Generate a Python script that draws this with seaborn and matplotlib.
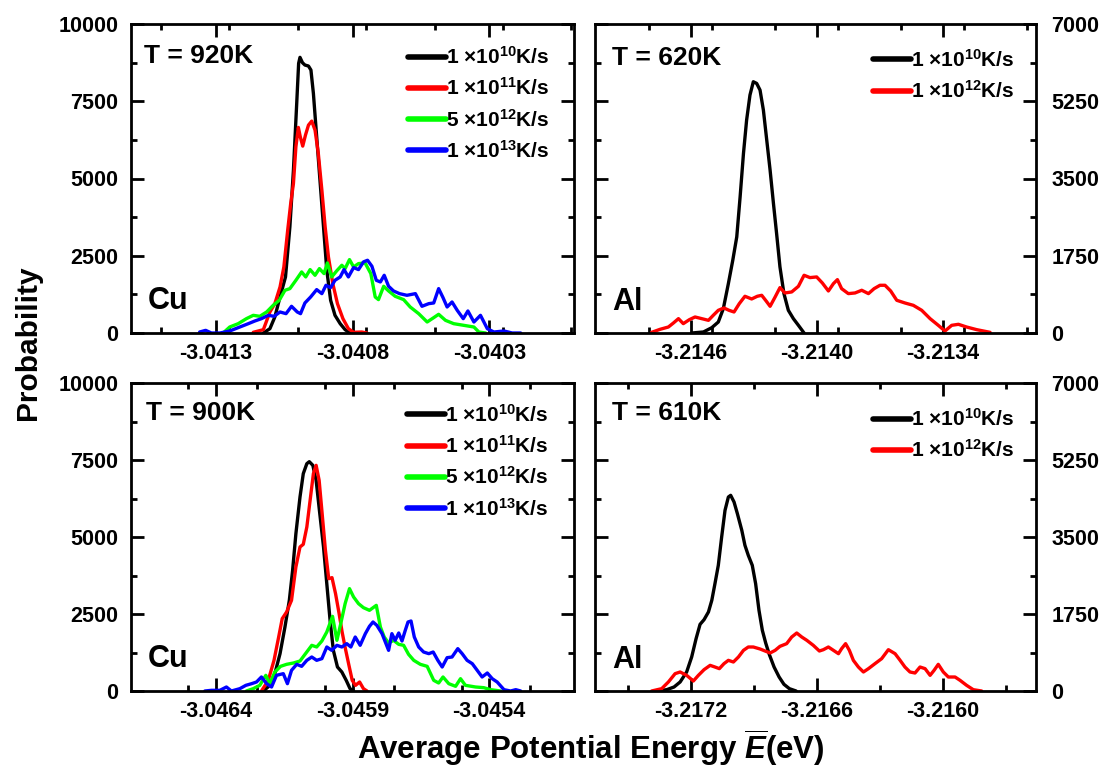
import matplotlib
matplotlib.use("Agg")
import matplotlib.pyplot as plt
from matplotlib.ticker import MultipleLocator
import pandas as pd
import seaborn as sns

# ---------------- data ----------------
rate_labels_cu = [r"1 ×10$^{10}$K/s", r"1 ×10$^{11}$K/s", r"5 ×10$^{12}$K/s", r"1 ×10$^{13}$K/s"]
rate_labels_al = [r"1 ×10$^{10}$K/s", r"1 ×10$^{12}$K/s"]
colors_cu = ["#000000", "#ff0000", "#00ff00", "#0000ff"]
colors_al = ["#000000", "#ff0000"]

# Cu, T = 920 K
cu920_E_1e10 = [-3.041126, -3.041102, -3.041084, -3.041065, -3.041045, -3.041029, -3.041016, -3.041004,
                -3.040997, -3.040992, -3.040983, -3.040974, -3.040961, -3.040952, -3.040943, -3.040931,
                -3.040919, -3.040906, -3.040894, -3.040880, -3.040864, -3.040845, -3.040827, -3.040809]
cu920_P_1e10 = [0, 140, 518, 1166, 1814, 3434, 5270, 7430, 8726, 8921, 8748, 8672, 8640, 8510, 7754, 6350,
                4946, 3434, 2030, 1058, 572, 302, 108, 0]
cu920_E_1e11 = [-3.041163, -3.041126, -3.041102, -3.041084, -3.041065, -3.041051, -3.041037, -3.041026,
                -3.041016, -3.041007, -3.040998, -3.040991, -3.040982, -3.040972, -3.040961, -3.040949,
                -3.040937, -3.040925, -3.040912, -3.040900, -3.040888, -3.040872, -3.040855, -3.040835,
                -3.040815, -3.040796, -3.040766, -3.040747]
cu920_P_1e11 = [22, 108, 680, 950, 1490, 2138, 3326, 4190, 4838, 6026, 6653, 6350, 6048, 6404, 6728, 6858,
                6566, 5810, 4622, 3434, 2462, 1598, 950, 464, 140, 22, 32, 0]
cu920_E_5e12 = [-3.041273, -3.041249, -3.041218, -3.041188, -3.041163, -3.041139, -3.041114, -3.041090,
                -3.041068, -3.041047, -3.041029, -3.041007, -3.040986, -3.040971, -3.040955, -3.040937,
                -3.040921, -3.040904, -3.040892, -3.040876, -3.040858, -3.040839, -3.040827, -3.040811,
                -3.040796, -3.040778, -3.040754, -3.040733, -3.040717, -3.040705, -3.040686, -3.040668,
                -3.040644, -3.040613, -3.040589, -3.040558, -3.040527, -3.040503, -3.040485, -3.040460,
                -3.040430, -3.040393, -3.040356, -3.040338, -3.040313]
cu920_P_5e12 = [0, 194, 302, 464, 572, 540, 680, 896, 1058, 1382, 1436, 1706, 1976, 1814, 2052, 1868,
                2084, 1922, 2268, 1814, 2009, 2192, 2084, 2376, 2138, 2246, 2268, 1922, 1166, 1080,
                1512, 1361, 1188, 1080, 842, 626, 356, 497, 605, 410, 302, 248, 194, 32, 0]
cu920_E_1e13 = [-3.041359, -3.041337, -3.041316, -3.041285, -3.041249, -3.041212, -3.041181, -3.041157,
                -3.041133, -3.041108, -3.041087, -3.041065, -3.041043, -3.041023, -3.041002, -3.040990,
                -3.040974, -3.040953, -3.040931, -3.040912, -3.040897, -3.040880, -3.040864, -3.040845,
                -3.040831, -3.040815, -3.040796, -3.040778, -3.040760, -3.040745, -3.040729, -3.040713,
                -3.040698, -3.040684, -3.040668, -3.040650, -3.040628, -3.040601, -3.040570, -3.040546,
                -3.040521, -3.040503, -3.040485, -3.040469, -3.040454, -3.040436, -3.040417, -3.040395,
                -3.040378, -3.040356, -3.040332, -3.040307, -3.040283, -3.040246, -3.040216, -3.040185]
cu920_P_1e13 = [32, 86, 0, 0, 65, 194, 302, 389, 464, 572, 540, 680, 626, 864, 680, 626,
                972, 1166, 1404, 1274, 1544, 1469, 1706, 1814, 2052, 1814, 2117, 2052, 2300, 2354,
                2160, 1706, 1652, 1868, 1512, 1361, 1274, 1220, 1274, 864, 950, 972, 1436, 1145,
                842, 1004, 734, 464, 713, 356, 572, 140, 32, 65, 0, 0]

# Cu, T = 900 K
cu900_E_1e10 = [-3.046226, -3.046202, -3.046184, -3.046165, -3.046147, -3.046131, -3.046119, -3.046107,
                -3.046092, -3.046080, -3.046067, -3.046058, -3.046045, -3.046033, -3.046021, -3.046006,
                -3.045994, -3.045982, -3.045970, -3.045955, -3.045939, -3.045923, -3.045909, -3.045896]
cu900_P_1e10 = [0, 184, 563, 1212, 2078, 2944, 3918, 5108, 6299, 7057, 7381, 7446, 7327, 6840, 5866, 4676,
                3485, 2294, 1320, 779, 617, 346, 76, 0]
cu900_E_1e11 = [-3.046233, -3.046208, -3.046187, -3.046170, -3.046157, -3.046141, -3.046123, -3.046107,
                -3.046092, -3.046080, -3.046067, -3.046055, -3.046043, -3.046033, -3.046022, -3.046011,
                -3.045999, -3.045987, -3.045975, -3.045962, -3.045950, -3.045938, -3.045926, -3.045913,
                -3.045901, -3.045889, -3.045874, -3.045860, -3.045847]
cu900_P_1e11 = [0, 346, 996, 1753, 2349, 2565, 2944, 4026, 4676, 4762, 5325, 6191, 7057, 7327, 6840, 5758,
                4567, 3647, 3680, 3160, 2565, 1916, 1375, 833, 346, 184, 292, 76, 0]
cu900_E_5e12 = [-3.046288, -3.046263, -3.046239, -3.046217, -3.046202, -3.046184, -3.046163, -3.046141,
                -3.046116, -3.046092, -3.046070, -3.046049, -3.046031, -3.046012, -3.045994, -3.045973,
                -3.045957, -3.045943, -3.045927, -3.045911, -3.045896, -3.045878, -3.045860, -3.045838,
                -3.045813, -3.045798, -3.045784, -3.045768, -3.045750, -3.045731, -3.045713, -3.045695,
                -3.045676, -3.045652, -3.045627, -3.045603, -3.045585, -3.045569, -3.045548, -3.045523,
                -3.045505, -3.045487, -3.045450, -3.045420, -3.045395, -3.045358]
cu900_P_5e12 = [0, 76, 184, 509, 238, 617, 801, 866, 909, 974, 1234, 1483, 1429, 1623, 1916, 2424,
                1645, 2186, 2836, 3323, 3052, 2836, 2706, 2619, 2781, 2078, 1753, 1558, 1645, 1515,
                1483, 1191, 996, 866, 801, 346, 260, 455, 238, 152, 400, 184, 130, 108, 43, 0]
cu900_E_1e13 = [-3.046440, -3.046416, -3.046385, -3.046361, -3.046343, -3.046312, -3.046290, -3.046269,
                -3.046251, -3.046233, -3.046214, -3.046196, -3.046178, -3.046153, -3.046138, -3.046123,
                -3.046104, -3.046086, -3.046067, -3.046049, -3.046031, -3.046012, -3.045994, -3.045976,
                -3.045957, -3.045939, -3.045921, -3.045906, -3.045890, -3.045872, -3.045853, -3.045838,
                -3.045825, -3.045811, -3.045792, -3.045780, -3.045768, -3.045756, -3.045744, -3.045731,
                -3.045719, -3.045707, -3.045697, -3.045686, -3.045674, -3.045658, -3.045640, -3.045621,
                -3.045605, -3.045588, -3.045572, -3.045554, -3.045536, -3.045515, -3.045499, -3.045481,
                -3.045462, -3.045444, -3.045426, -3.045407, -3.045389, -3.045371, -3.045346, -3.045322,
                -3.045303, -3.045285]
cu900_P_1e13 = [0, 22, 22, 130, 0, 76, 184, 238, 292, 455, 238, 130, 509, 563, 238, 671,
                866, 801, 996, 1104, 996, 1050, 1429, 1320, 1483, 1429, 1537, 1429, 1753, 1483,
                1862, 2100, 2240, 2132, 1862, 1591, 1320, 1862, 1645, 1883, 1623, 1970, 2240, 2273,
                1753, 1429, 1266, 1212, 1266, 996, 779, 1082, 1104, 1375, 1212, 996, 887, 671,
                455, 584, 400, 292, 43, 0, 43, 0]

# Al, T = 620 K
al620_E_1e10 = [-3.214597, -3.214541, -3.214501, -3.214470, -3.214446, -3.214422, -3.214401, -3.214382,
                -3.214366, -3.214350, -3.214335, -3.214319, -3.214303, -3.214287, -3.214271, -3.214255,
                -3.214239, -3.214223, -3.214207, -3.214192, -3.214176, -3.214157, -3.214136, -3.214112,
                -3.214088, -3.214061]
al620_P_1e10 = [0, 23, 121, 249, 552, 1119, 1648, 2177, 3084, 4067, 4823, 5390, 5692, 5654, 5503, 5049,
                4369, 3689, 2933, 2253, 1497, 892, 514, 325, 174, 0]
al620_E_1e12 = [-3.214788, -3.214748, -3.214708, -3.214684, -3.214660, -3.214637, -3.214608, -3.214581,
                -3.214549, -3.214517, -3.214494, -3.214470, -3.214443, -3.214419, -3.214395, -3.214370,
                -3.214343, -3.214311, -3.214284, -3.214263, -3.214242, -3.214223, -3.214199, -3.214176,
                -3.214152, -3.214120, -3.214088, -3.214061, -3.214033, -3.214001, -3.213974, -3.213945,
                -3.213921, -3.213902, -3.213882, -3.213850, -3.213818, -3.213786, -3.213754, -3.213727,
                -3.213699, -3.213675, -3.213648, -3.213619, -3.213580, -3.213540, -3.213500, -3.213460,
                -3.213421, -3.213389, -3.213357, -3.213325, -3.213286, -3.213238, -3.213174]
al620_P_1e12 = [15, 83, 136, 227, 325, 212, 302, 363, 325, 287, 401, 514, 567, 514, 476, 665,
                832, 771, 832, 854, 726, 605, 816, 1028, 907, 930, 1058, 1308, 1255, 1270,
                1134, 952, 1119, 1209, 1005, 892, 907, 968, 892, 1005, 1081, 1081, 952, 741,
                680, 627, 514, 325, 174, 45, 174, 197, 136, 76, 15]

# Al, T = 610 K
al610_E_1e10 = [-3.217364, -3.217316, -3.217281, -3.217252, -3.217221, -3.217197, -3.217176, -3.217157,
                -3.217138, -3.217117, -3.217101, -3.217086, -3.217070, -3.217054, -3.217038, -3.217022,
                -3.217011, -3.216995, -3.216979, -3.216958, -3.216943, -3.216927, -3.216908, -3.216892,
                -3.216876, -3.216860, -3.216844, -3.216827, -3.216804, -3.216780, -3.216757, -3.216731,
                -3.216699]
al610_P_1e10 = [0, 30, 91, 205, 432, 773, 1189, 1515, 1621, 1796, 2061, 2439, 2856, 3500, 4106, 4409,
                4447, 4296, 4030, 3652, 3311, 3083, 2856, 2439, 1833, 1379, 1091, 833, 545, 318,
                152, 53, 0]
al610_E_1e12 = [-3.217388, -3.217340, -3.217308, -3.217276, -3.217252, -3.217221, -3.217189, -3.217165,
                -3.217138, -3.217109, -3.217086, -3.217065, -3.217043, -3.217022, -3.216998, -3.216974,
                -3.216950, -3.216927, -3.216903, -3.216871, -3.216847, -3.216823, -3.216799, -3.216776,
                -3.216744, -3.216720, -3.216696, -3.216672, -3.216648, -3.216617, -3.216588, -3.216569,
                -3.216545, -3.216521, -3.216497, -3.216482, -3.216463, -3.216445, -3.216426, -3.216402,
                -3.216378, -3.216354, -3.216323, -3.216291, -3.216259, -3.216227, -3.216203, -3.216180,
                -3.216156, -3.216132, -3.216108, -3.216084, -3.216060, -3.216041, -3.216021, -3.215997,
                -3.215973, -3.215941, -3.215917, -3.215886, -3.215854, -3.215814]
al610_P_1e12 = [0, 53, 205, 394, 432, 356, 227, 356, 485, 583, 545, 508, 621, 697, 659, 773,
                924, 1000, 1000, 955, 909, 864, 924, 1015, 1076, 1227, 1318, 1227, 1152, 1038,
                909, 939, 1000, 924, 848, 962, 1076, 924, 697, 545, 432, 508, 621, 735, 939,
                848, 697, 545, 432, 409, 545, 508, 356, 470, 606, 432, 318, 318, 242, 129, 30, 0]

# axis ticks / labels
cu920_xticks = [-3.0413, -3.0408, -3.0403]
cu920_xticklabels = ["-3.0413", "-3.0408", "-3.0403"]
cu900_xticks = [-3.0464, -3.0459, -3.0454]
cu900_xticklabels = ["-3.0464", "-3.0459", "-3.0454"]
al620_xticks = [-3.2146, -3.2140, -3.2134]
al620_xticklabels = ["-3.2146", "-3.2140", "-3.2134"]
al610_xticks = [-3.2172, -3.2166, -3.2160]
al610_xticklabels = ["-3.2172", "-3.2166", "-3.2160"]
cu_yticks = [0, 2500, 5000, 7500, 10000]
cu_yticklabels = ["0", "2500", "5000", "7500", "10000"]
al_yticks = [0, 1750, 3500, 5250, 7000]
al_yticklabels = ["0", "1750", "3500", "5250", "7000"]

# ---------------- styling ----------------
sns.set_style("ticks")
plt.rcParams.update({
    "font.family": ["Liberation Sans", "DejaVu Sans"],
    "font.weight": "bold",
    "text.color": "black",
    "axes.labelcolor": "black",
    "axes.edgecolor": "black",
    "xtick.color": "black",
    "ytick.color": "black",
    "xtick.labelcolor": "black",
    "ytick.labelcolor": "black",
    "axes.unicode_minus": False,
    "mathtext.fontset": "custom",
    "mathtext.rm": "Liberation Sans:bold",
    "mathtext.bf": "Liberation Sans:bold",
    "mathtext.it": "Liberation Sans:italic:bold",
    "mathtext.sf": "Liberation Sans:bold",
    "mathtext.default": "rm",
})

W, H = 1110, 771
fig = plt.figure(figsize=(W / 100, H / 100), dpi=100)


def add_ax(l, t, r, b):
    return fig.add_axes([l / W, 1 - b / H, (r - l) / W, (b - t) / H])


def panel(ax, series, labels, colors, xlim, xticks, xticklabels, xminor,
          ylim, yticks, yticklabels, yminor, temp_text, elem, right,
          leg_anchor, temp_pos, elem_pos):
    frames = [pd.DataFrame({"E": E, "P": P, "rate": lab}) for (E, P), lab in zip(series, labels)]
    df = pd.concat(frames, ignore_index=True)
    sns.lineplot(data=df, x="E", y="P", hue="rate", hue_order=labels, palette=colors,
                 estimator=None, sort=False, linewidth=2.4, legend=False, ax=ax,
                 solid_joinstyle="round", solid_capstyle="round")
    ax.set_xlim(*xlim)
    ax.set_ylim(*ylim)
    ax.set_xticks(xticks)
    ax.set_xticklabels(xticklabels)
    ax.xaxis.set_minor_locator(MultipleLocator(xminor))
    ax.set_yticks(yticks)
    ax.set_yticklabels(yticklabels)
    ax.yaxis.set_minor_locator(MultipleLocator(yminor))
    ax.set_xlabel("")
    ax.set_ylabel("")
    for s in ax.spines.values():
        s.set_visible(True)
        s.set_linewidth(2.0)
        s.set_color("black")
    ax.tick_params(which="both", direction="in", top=True, bottom=True, left=True, right=True,
                   width=2.0, color="black", labelcolor="black")
    ax.tick_params(which="major", length=9.5)
    ax.tick_params(which="minor", length=4.5)
    ax.tick_params(axis="x", which="major", labelsize=15.5, pad=7)
    if right:
        ax.tick_params(axis="y", which="major", labelleft=False, labelright=True, labelsize=15.5, pad=11)
    else:
        ax.tick_params(axis="y", which="major", labelsize=15.5, pad=9)
    for lbl in ax.get_xticklabels() + ax.get_yticklabels():
        lbl.set_fontweight("bold")
    leg = ax.legend(handles=ax.lines[:len(labels)], labels=labels, loc="upper right",
                    bbox_to_anchor=leg_anchor, frameon=False, handlelength=1.85,
                    handletextpad=0.0, labelspacing=0.45, borderpad=0, borderaxespad=0,
                    prop={"weight": "bold", "size": 15})
    for h in leg.legend_handles:
        h.set_linewidth(4.0)
    for t in leg.get_texts():
        t.set_color("black")
    ax.text(temp_pos[0], temp_pos[1], temp_text, transform=ax.transAxes, ha="left", va="center",
            fontsize=19, fontweight="bold", color="black")
    ax.text(elem_pos[0], elem_pos[1], elem, transform=ax.transAxes, ha="left", va="center",
            fontsize=22, fontweight="bold", color="black")


ax_tl = add_ax(131, 24, 574, 333)
ax_tr = add_ax(595, 24, 1036, 333)
ax_bl = add_ax(131, 383, 574, 691)
ax_br = add_ax(595, 383, 1036, 691)

panel(ax_tl,
      [(cu920_E_1e10, cu920_P_1e10), (cu920_E_1e11, cu920_P_1e11),
       (cu920_E_5e12, cu920_P_5e12), (cu920_E_1e13, cu920_P_1e13)],
      rate_labels_cu, colors_cu, (-3.04161, -3.03999), cu920_xticks, cu920_xticklabels, 0.00025,
      (0, 10000), cu_yticks, cu_yticklabels, 1250, "T = 920K", "Cu", False,
      (0.945, 0.929), (0.03, 0.896), (0.038, 0.104))

panel(ax_tr,
      [(al620_E_1e10, al620_P_1e10), (al620_E_1e12, al620_P_1e12)],
      rate_labels_al, colors_al, (-3.215058, -3.212955), al620_xticks, al620_xticklabels, 0.0003,
      (0, 7000), al_yticks, al_yticklabels, 875, "T = 620K", "Al", True,
      (0.952, 0.92), (0.038, 0.89), (0.038, 0.10))

panel(ax_bl,
      [(cu900_E_1e10, cu900_P_1e10), (cu900_E_1e11, cu900_P_1e11),
       (cu900_E_5e12, cu900_P_5e12), (cu900_E_1e13, cu900_P_1e13)],
      rate_labels_cu, colors_cu, (-3.04671, -3.04509), cu900_xticks, cu900_xticklabels, 0.00025,
      (0, 10000), cu_yticks, cu_yticklabels, 1250, "T = 900K", "Cu", False,
      (0.943, 0.933), (0.033, 0.903), (0.038, 0.104))

panel(ax_br,
      [(al610_E_1e10, al610_P_1e10), (al610_E_1e12, al610_P_1e12)],
      rate_labels_al, colors_al, (-3.217658, -3.215555), al610_xticks, al610_xticklabels, 0.0003,
      (0, 7000), al_yticks, al_yticklabels, 875, "T = 610K", "Al", True,
      (0.952, 0.919), (0.038, 0.903), (0.038, 0.10))

fig.text(28 / W, 1 - 343 / H, "Probability", rotation=90, ha="center", va="center",
         fontsize=21.5, fontweight="bold", color="black")
fig.text(591 / W, 1 - 748 / H, r"Average Potential Energy $\overline{\mathit{E}}$(eV)", ha="center",
         va="center", fontsize=22.5, fontweight="bold", color="black")

fig.savefig("out.png", dpi=100)
